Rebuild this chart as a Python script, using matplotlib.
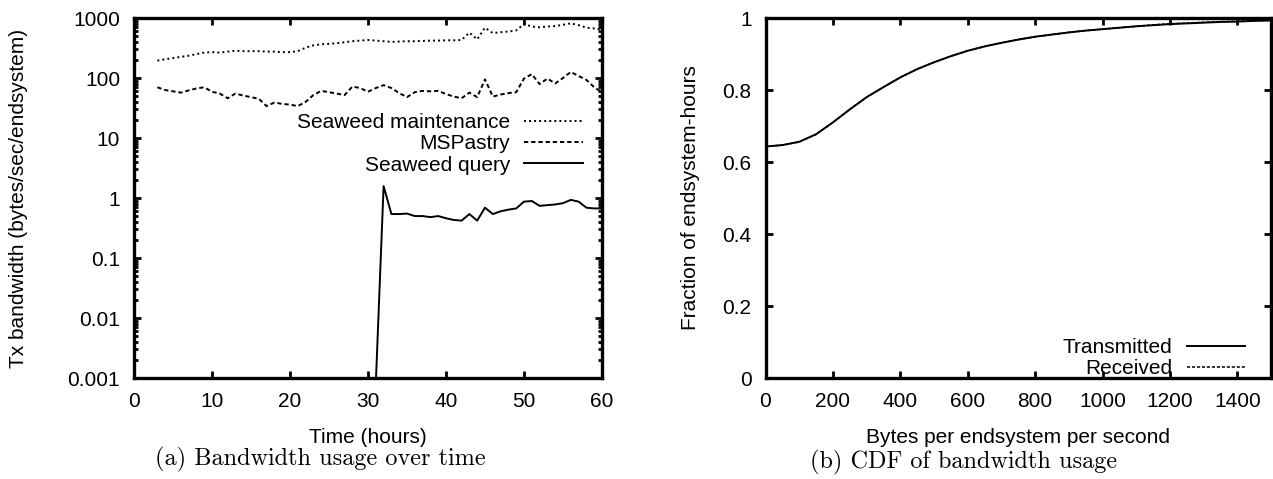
import numpy as np
import matplotlib
matplotlib.use("Agg")
import matplotlib.pyplot as plt
from matplotlib.ticker import FixedLocator, FixedFormatter, LogLocator, NullFormatter

# ---------------- data ----------------
hours = list(range(3, 61))
seaweed_maintenance = [195, 205, 215, 225, 235, 250, 265, 270, 265, 275,
                       285, 280, 280, 280, 275, 275, 270, 270, 280, 320,
                       350, 365, 370, 380, 395, 410, 420, 430, 420, 410,
                       400, 405, 410, 410, 415, 420, 420, 425, 425, 430,
                       570, 440, 690, 560, 580, 595, 620, 795, 720, 700,
                       720, 735, 770, 815, 760, 690, 670, 640]
mspastry = [70, 63, 60, 57, 62, 67, 70, 59, 55, 46,
            55, 51, 48, 45, 34, 39, 37, 36, 34, 40,
            52, 61, 58, 55, 52, 72, 68, 59, 68, 76,
            68, 56, 48, 58, 61, 60, 61, 54, 49, 46,
            57, 48, 95, 49, 53, 56, 58, 98, 116, 79,
            98, 81, 100, 126, 108, 93, 70, 58]
seaweed_query = [0, 0, 0, 0, 0, 0, 0, 0, 0, 0,
                 0, 0, 0, 0, 0, 0, 0, 0, 0, 0,
                 0, 0, 0, 0, 0, 0, 0, 0, 0.0008, 1.58,
                 0.54, 0.54, 0.55, 0.50, 0.50, 0.48, 0.50, 0.46, 0.43, 0.42,
                 0.54, 0.42, 0.69, 0.54, 0.60, 0.64, 0.67, 0.87, 0.89, 0.74,
                 0.76, 0.78, 0.82, 0.93, 0.87, 0.69, 0.67, 0.67]

bytes_per_sec = [0, 50, 100, 150, 200, 250, 300, 350, 400, 450, 500, 550, 600,
                 650, 700, 750, 800, 850, 900, 950, 1000, 1050, 1100, 1150,
                 1200, 1250, 1300, 1350, 1400, 1450, 1500]
cdf_transmitted = [0.643, 0.647, 0.656, 0.677, 0.710, 0.746, 0.780, 0.808,
                   0.835, 0.858, 0.877, 0.894, 0.909, 0.921, 0.931, 0.940,
                   0.948, 0.954, 0.960, 0.965, 0.969, 0.973, 0.977, 0.980,
                   0.983, 0.985, 0.987, 0.989, 0.990, 0.992, 0.993]
cdf_received = [0.643, 0.647, 0.656, 0.677, 0.710, 0.746, 0.780, 0.808,
                0.835, 0.858, 0.877, 0.894, 0.909, 0.921, 0.931, 0.940,
                0.948, 0.954, 0.960, 0.965, 0.969, 0.973, 0.977, 0.981,
                0.984, 0.986, 0.988, 0.990, 0.991, 0.993, 0.994]

left_yticks = [0.001, 0.01, 0.1, 1, 10, 100, 1000]
left_yticklabels = ["0.001", "0.01", "0.1", "1", "10", "100", "1000"]
left_xticks = [0, 10, 20, 30, 40, 50, 60]
right_xticks = [0, 200, 400, 600, 800, 1000, 1200, 1400]
right_yticks = [0, 0.2, 0.4, 0.6, 0.8, 1]
right_yticklabels = ["0", "0.2", "0.4", "0.6", "0.8", "1"]

# ---------------- style ----------------
plt.rcParams['font.family'] = ['Liberation Sans', 'DejaVu Sans']
FS = 15
W, H = 1273, 479
fig = plt.figure(figsize=(W / 100, H / 100), dpi=100)

def frac_x(px):
    return px / W

def frac_y(py):
    return 1 - py / H

SPINE_LW = 2.4
LINE_LW = 1.4


def style_axes(ax):
    for s in ax.spines.values():
        s.set_linewidth(SPINE_LW)
    ax.tick_params(which='both', direction='in', top=True, right=True,
                   labelsize=FS, width=2.0)
    ax.tick_params(which='major', length=5, pad=10)
    ax.tick_params(which='minor', length=3)


# ---------------- left panel ----------------
axL = fig.add_axes([frac_x(134), frac_y(378), (602 - 134) / W, 360 / H])
axL.set_yscale('log')
axL.plot(hours, seaweed_maintenance, color='black', lw=LINE_LW,
         linestyle=(0, (1, 1.6)), label='Seaweed maintenance')
axL.plot(hours, mspastry, color='black', lw=LINE_LW,
         linestyle=(0, (2.2, 1.5)), label='MSPastry')
axL.plot(hours, seaweed_query, color='black', lw=LINE_LW,
         linestyle='-', label='Seaweed query')
axL.set_xlim(0, 60)
axL.set_ylim(0.001, 1000)
axL.yaxis.set_major_locator(FixedLocator(left_yticks))
axL.yaxis.set_major_formatter(FixedFormatter(left_yticklabels))
axL.yaxis.set_minor_locator(LogLocator(base=10, subs=np.arange(2, 10)))
axL.yaxis.set_minor_formatter(NullFormatter())
axL.set_xticks(left_xticks)
style_axes(axL)
axL.set_xlabel('Time (hours)', fontsize=FS)
axL.xaxis.set_label_coords(0.5, -0.14)
axL.set_ylabel('Tx bandwidth (bytes/sec/endsystem)', fontsize=FS)
axL.yaxis.set_label_coords(-0.227, 0.5)
axL.legend(loc='upper right', bbox_to_anchor=(0.959, 0.735),
           frameon=False, markerfirst=False, fontsize=FS,
           handlelength=2.8, handletextpad=0.7, labelspacing=0.1,
           borderpad=0, borderaxespad=0)

# ---------------- right panel ----------------
axR = fig.add_axes([frac_x(765.5), frac_y(378), (1271 - 765.5) / W, 360 / H])
axR.plot(bytes_per_sec, cdf_transmitted, color='black', lw=LINE_LW,
         linestyle='-', label='Transmitted')
axR.plot(bytes_per_sec, cdf_received, color='black', lw=LINE_LW * 0.8,
         linestyle=(0, (2, 1.2)), label='Received')
axR.set_xlim(0, 1500)
axR.set_ylim(0, 1)
axR.set_xticks(right_xticks)
axR.yaxis.set_major_locator(FixedLocator(right_yticks))
axR.yaxis.set_major_formatter(FixedFormatter(right_yticklabels))
style_axes(axR)
axR.set_xlabel('Bytes per endsystem per second', fontsize=FS)
axR.xaxis.set_label_coords(0.5, -0.14)
axR.set_ylabel('Fraction of endsystem-hours', fontsize=FS)
axR.yaxis.set_label_coords(-0.13, 0.5)
axR.legend(loc='lower right', bbox_to_anchor=(0.9486, 0.0),
           frameon=False, markerfirst=False, fontsize=FS,
           handlelength=2.8, handletextpad=0.7, labelspacing=0.1,
           borderpad=0, borderaxespad=0)

# ---------------- captions ----------------
fig.text(frac_x(155), frac_y(459), '(a) Bandwidth usage over time',
         family='cmr10', fontsize=17.5, ha='left', va='center')
fig.text(frac_x(810), frac_y(462), '(b) CDF of bandwidth usage',
         family='cmr10', fontsize=17.5, ha='left', va='center')

fig.savefig('out.png', dpi=100)
